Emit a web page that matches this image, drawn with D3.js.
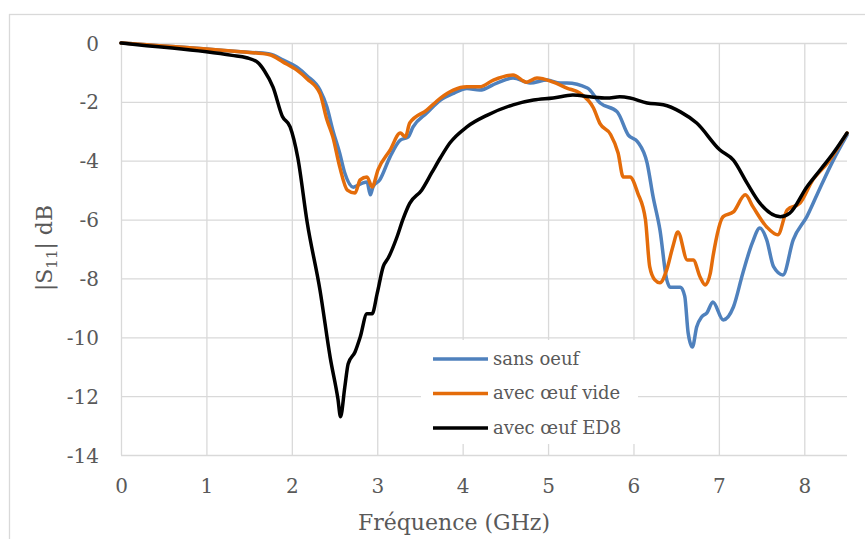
<!DOCTYPE html>
<html>
<head>
<meta charset="utf-8">
<script src="https://cdn.jsdelivr.net/npm/d3@7"></script>
<style>
  html, body { margin: 0; padding: 0; background: #fff; }
  svg { display: block; }
</style>
</head>
<body>
<svg id="chart" width="865" height="539"></svg>
<script>
// ---- Data ----
const xTicks = [0, 1, 2, 3, 4, 5, 6, 7, 8];
const yTicks = [0, -2, -4, -6, -8, -10, -12, -14];
const seriesNames = ["sans oeuf", "avec œuf vide", "avec œuf ED8"];

const sansFreq = [0, 0.3, 0.6, 1.0, 1.4, 1.74, 1.9, 2.06, 2.18, 2.33, 2.41, 2.48, 2.56, 2.62, 2.72, 2.82, 2.88, 2.92, 2.95, 3.03, 3.15, 3.27, 3.36, 3.42, 3.58, 3.74, 3.9, 4.05, 4.2, 4.4, 4.59, 4.79, 4.99, 5.14, 5.22, 5.46, 5.61, 5.81, 5.94, 6.05, 6.16, 6.23, 6.31, 6.39, 6.43, 6.55, 6.6, 6.64, 6.69, 6.74, 6.8, 6.86, 6.93, 7.05, 7.17, 7.28, 7.39, 7.48, 7.56, 7.64, 7.75, 7.87, 8.03, 8.19, 8.34, 8.5];
const sansDb   = [0, -0.06, -0.12, -0.2, -0.3, -0.37, -0.58, -0.82, -1.12, -1.6, -2.17, -2.96, -3.74, -4.42, -4.9, -4.77, -4.72, -5.16, -4.89, -4.65, -3.87, -3.3, -3.2, -2.85, -2.38, -1.94, -1.7, -1.55, -1.6, -1.36, -1.19, -1.36, -1.26, -1.36, -1.36, -1.53, -2.04, -2.34, -3.13, -3.36, -4.08, -5.23, -6.35, -8.05, -8.3, -8.3, -8.6, -9.85, -10.33, -9.65, -9.3, -9.17, -8.8, -9.41, -8.97, -7.82, -6.8, -6.29, -6.69, -7.6, -7.88, -6.69, -5.9, -4.89, -3.98, -3.13];

const videFreq = [0, 0.3, 0.6, 1.0, 1.4, 1.74, 1.9, 2.06, 2.18, 2.33, 2.41, 2.48, 2.56, 2.65, 2.74, 2.8, 2.88, 2.94, 3.01, 3.15, 3.27, 3.33, 3.38, 3.58, 3.74, 3.89, 4.05, 4.2, 4.36, 4.59, 4.75, 4.87, 5.06, 5.22, 5.37, 5.53, 5.61, 5.73, 5.82, 5.88, 5.96, 6.05, 6.14, 6.19, 6.25, 6.31, 6.39, 6.46, 6.52, 6.63, 6.7, 6.78, 6.84, 6.9, 6.93, 7.05, 7.17, 7.31, 7.4, 7.56, 7.69, 7.8, 7.95, 8.1, 8.27, 8.5];
const videDb   = [0, -0.06, -0.12, -0.2, -0.3, -0.4, -0.65, -0.92, -1.22, -1.72, -2.6, -3.19, -4.2, -5.0, -5.1, -4.65, -4.55, -4.89, -4.3, -3.64, -3.06, -3.19, -2.72, -2.28, -1.87, -1.6, -1.49, -1.49, -1.26, -1.09, -1.33, -1.19, -1.33, -1.53, -1.7, -2.2, -2.75, -3.1, -3.74, -4.55, -4.55, -5.1, -6.0, -7.6, -8.05, -8.15, -7.7, -6.93, -6.42, -7.37, -7.37, -7.95, -8.22, -7.82, -7.27, -5.9, -5.74, -5.16, -5.57, -6.25, -6.52, -5.67, -5.44, -4.65, -4.08, -3.06];

const ed8Freq = [0, 0.3, 0.6, 1.0, 1.3, 1.47, 1.6, 1.68, 1.78, 1.89, 1.98, 2.07, 2.18, 2.33, 2.45, 2.54, 2.57, 2.62, 2.66, 2.74, 2.8, 2.88, 2.94, 3.0, 3.07, 3.13, 3.23, 3.3, 3.38, 3.52, 3.64, 3.74, 3.85, 4.05, 4.29, 4.59, 4.83, 5.06, 5.29, 5.49, 5.69, 5.84, 5.96, 6.16, 6.35, 6.55, 6.74, 7.01, 7.17, 7.33, 7.48, 7.72, 7.83, 8.03, 8.19, 8.34, 8.5];
const ed8Db   = [0, -0.09, -0.17, -0.3, -0.42, -0.5, -0.66, -0.95, -1.5, -2.5, -2.85, -3.9, -6.1, -8.4, -10.7, -12.1, -12.7, -11.7, -10.9, -10.5, -10.0, -9.2, -9.2, -8.5, -7.6, -7.3, -6.6, -6.0, -5.45, -5.0, -4.4, -3.9, -3.4, -2.85, -2.45, -2.1, -1.94, -1.87, -1.77, -1.83, -1.87, -1.83, -1.87, -2.04, -2.1, -2.34, -2.72, -3.63, -3.98, -4.76, -5.44, -5.9, -5.78, -4.89, -4.3, -3.74, -3.06];

const series = [
  { name: seriesNames[0], color: "#4f81bd", pts: sansFreq.map((f, i) => [f, sansDb[i]]) },
  { name: seriesNames[1], color: "#e46c0a", pts: videFreq.map((f, i) => [f, videDb[i]]) },
  { name: seriesNames[2], color: "#000000", pts: ed8Freq.map((f, i) => [f, ed8Db[i]]) }
];

// ---- Layout ----
const svg = d3.select("#chart");
const pLeft = 121, pRight = 847, pTop = 43, pBottom = 455;
const x = d3.scaleLinear().domain([0, 8.5]).range([pLeft, pRight]);
const y = d3.scaleLinear().domain([-14, 0]).range([pBottom, pTop]);
const textColor = "#595959";
const gridColor = "#d9d9d9";
const font = "'DejaVu Serif', serif";

// outer chart border
svg.append("rect").attr("x", 9.5).attr("y", 14.5).attr("width", 900).attr("height", 600)
  .attr("fill", "none").attr("stroke", gridColor).attr("stroke-width", 1.3);

// grid
const yAxis = d3.axisLeft(y).tickValues(yTicks).tickSize(-(pRight - pLeft)).tickFormat(d3.format("d"));
const gy = svg.append("g").attr("transform", `translate(${pLeft},0)`).call(yAxis);
gy.select(".domain").remove();
gy.selectAll(".tick line").attr("stroke", gridColor).attr("stroke-width", 1.3);
gy.selectAll(".tick text").attr("fill", textColor).attr("font-family", font).attr("font-size", 20)
  .attr("x", -22).attr("dy", "0.35em").text(d => d === 0 ? "0" : "-" + Math.abs(d));

const xAxis = d3.axisBottom(x).tickValues(xTicks).tickSize(-(pBottom - pTop)).tickFormat(d3.format("d"));
const gx = svg.append("g").attr("transform", `translate(0,${pBottom})`).call(xAxis);
gx.select(".domain").remove();
gx.selectAll(".tick line").attr("stroke", gridColor).attr("stroke-width", 1.3);
gx.selectAll(".tick text").attr("fill", textColor).attr("font-family", font).attr("font-size", 20)
  .attr("y", 24).attr("dy", "0.71em");

// lines
const line = d3.line().x(d => x(d[0])).y(d => y(d[1])).curve(d3.curveMonotoneX);
svg.append("g").selectAll("path").data(series).join("path")
  .attr("d", d => line(d.pts))
  .attr("fill", "none").attr("stroke", d => d.color).attr("stroke-width", 3.5)
  .attr("stroke-linejoin", "round").attr("stroke-linecap", "round");

// axis titles
svg.append("text").attr("x", (pLeft + pRight) / 2 - 30).attr("y", 530)
  .attr("text-anchor", "middle").attr("fill", textColor).attr("font-family", font).attr("font-size", 22)
  .text("Fréquence (GHz)");

const yl = svg.append("text").attr("transform", "translate(52,248) rotate(-90)")
  .attr("text-anchor", "middle").attr("fill", textColor).attr("font-family", font).attr("font-size", 22);
yl.append("tspan").text("|S");
yl.append("tspan").attr("font-size", 15).attr("dy", 5).text("11");
yl.append("tspan").attr("dy", -5).text("| dB");

// legend
const lg = svg.append("g");
lg.append("rect").attr("x", 421).attr("y", 340).attr("width", 217).attr("height", 104).attr("fill", "#fff");
const rows = lg.selectAll("g").data(series).join("g")
  .attr("transform", (d, i) => `translate(0,${359 + i * 34.5})`);
rows.append("line").attr("x1", 433).attr("x2", 488).attr("y1", 0).attr("y2", 0)
  .attr("stroke", d => d.color).attr("stroke-width", 3.5);
rows.append("text").attr("x", 493).attr("y", 0).attr("dy", "0.32em")
  .attr("fill", textColor).attr("font-family", font).attr("font-size", 18).text(d => d.name);
</script>
</body>
</html>
